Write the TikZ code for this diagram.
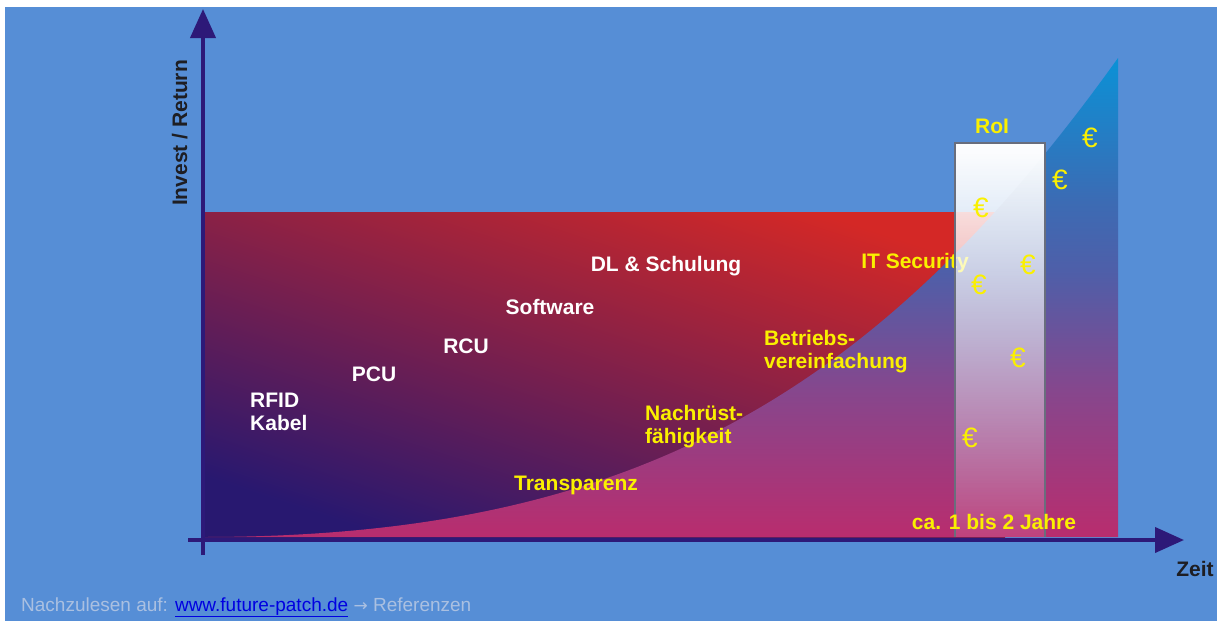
\documentclass[tikz,border=0pt]{standalone}
\usepackage{fontspec}
\setmainfont{Liberation Sans}
\newfontfamily\arrowfont{DejaVu Sans}
\usetikzlibrary{arrows.meta,fadings}

\definecolor{bgblue}{RGB}{86,142,214}
\definecolor{axisnavy}{RGB}{45,25,120}
\definecolor{investnavy}{RGB}{40,24,112}
\definecolor{investred}{RGB}{212,40,38}
\definecolor{labelyellow}{RGB}{250,240,0}
\definecolor{axistext}{RGB}{30,30,35}
\definecolor{footgray}{RGB}{170,192,225}
\definecolor{linkblue}{RGB}{0,0,225}
\definecolor{roiframe}{RGB}{105,110,125}

% return area: pink at the bottom, through violet, to light blue at the top
\pgfdeclareverticalshading{returnshade}{100bp}{%
  rgb(0bp)=(0.725,0.176,0.431);
  rgb(25bp)=(0.725,0.176,0.431);
  rgb(40bp)=(0.53,0.275,0.55);
  rgb(52.5bp)=(0.31,0.37,0.66);
  rgb(60bp)=(0.235,0.42,0.705);
  rgb(75bp)=(0.04,0.57,0.84);
  rgb(100bp)=(0.04,0.57,0.84)}

% RoI bar: opaque at the top, nearly clear at the bottom
\tikzfading[name=roifade, top color=transparent!0, bottom color=transparent!90]

\tikzset{
  axisline/.style={line width=4pt, draw=axisnavy, -{Triangle[length=29pt,width=25pt]}},
  lbl/.style={font=\bfseries\fontsize{21}{23}\selectfont, inner sep=0pt},
  whitelbl/.style={lbl, text=white},
  yellowlbl/.style={lbl, text=labelyellow},
  darklbl/.style={lbl, text=axistext},
  euro/.style={font=\fontsize{28}{30}\selectfont, text=labelyellow, inner sep=0pt},
  footer/.style={font=\fontsize{19}{21}\selectfont, text=footgray, inner sep=0pt}
}

\begin{document}
\begin{tikzpicture}[x=1pt,y=-1pt]
  \useasboundingbox (0,0) rectangle (1218,621);
  \fill[white] (0,0) rectangle (1218,621);
  \fill[bgblue] (5,7) rectangle (1217,621);

  % investment block: navy lower left, red upper right
  \shade[left color=investnavy, right color=investred, shading angle=162]
    (203,212) rectangle (1005,537);

  % return area under the growth curve
  \shade[shading=returnshade]
    (203,537) .. controls (620,537) and (870,405) .. (1118,58)
    -- (1118,537) -- cycle;

  \node[yellowlbl, anchor=base] (itsec) at (915,268) {IT Security};

  % RoI bar
  \fill[white, path fading=roifade] (955,143) rectangle (1045,537);
  \draw[roiframe, line width=1.2pt] (955,537) -- (955,143) -- (1045,143) -- (1045,537);

  % axes
  \coordinate (ybot) at (203,555);
  \coordinate (ytop) at (203,9);
  \coordinate (xleft) at (188,540);
  \coordinate (xright) at (1184,540);
  \draw[axisline] (ybot) -- (ytop);
  \draw[axisline] (xleft) -- (xright);

  \node[darklbl, rotate=90, anchor=base] (yaxis) at (187,133) {Invest / Return};
  \node[darklbl, anchor=base] (xaxis) at (1195,576) {Zeit};

  % cost items
  \node[whitelbl, anchor=base west, align=left] (rfid) at (250,430) {RFID\\Kabel};
  \node[whitelbl, anchor=base] (pcu) at (374,381) {PCU};
  \node[whitelbl, anchor=base] (rcu) at (466,353) {RCU};
  \node[whitelbl, anchor=base] (sw) at (550,314) {Software};
  \node[whitelbl, anchor=base] (dl) at (666,271) {DL \& Schulung};

  % benefits
  \node[yellowlbl, anchor=base] (transp) at (576,490) {Transparenz};
  \node[yellowlbl, anchor=base west, align=left] (nachr) at (645,443) {Nachrüst-\\fähigkeit};
  \node[yellowlbl, anchor=base west, align=left] (betr) at (764,368) {Betriebs-\\vereinfachung};
  \node[yellowlbl, anchor=base] (roi) at (992,133) {RoI};
  \node[yellowlbl, anchor=base] (years) at (994,529) {ca. 1 bis 2 Jahre};

  % euro signs
  \node[euro] (e1) at (1090,138) {€};
  \node[euro] (e2) at (1060,180) {€};
  \node[euro] (e3) at (981,208) {€};
  \node[euro] (e4) at (1028,265) {€};
  \node[euro] (e5) at (979,285) {€};
  \node[euro] (e6) at (1018,358) {€};
  \node[euro] (e7) at (970,438) {€};

  \node[footer, anchor=base west] (src) at (21,611)
    {Nachzulesen auf: \textcolor{linkblue}{\underline{www.future-patch.de}} {\arrowfont\fontsize{17}{21}\selectfont →} Referenzen};
\end{tikzpicture}
\end{document}
